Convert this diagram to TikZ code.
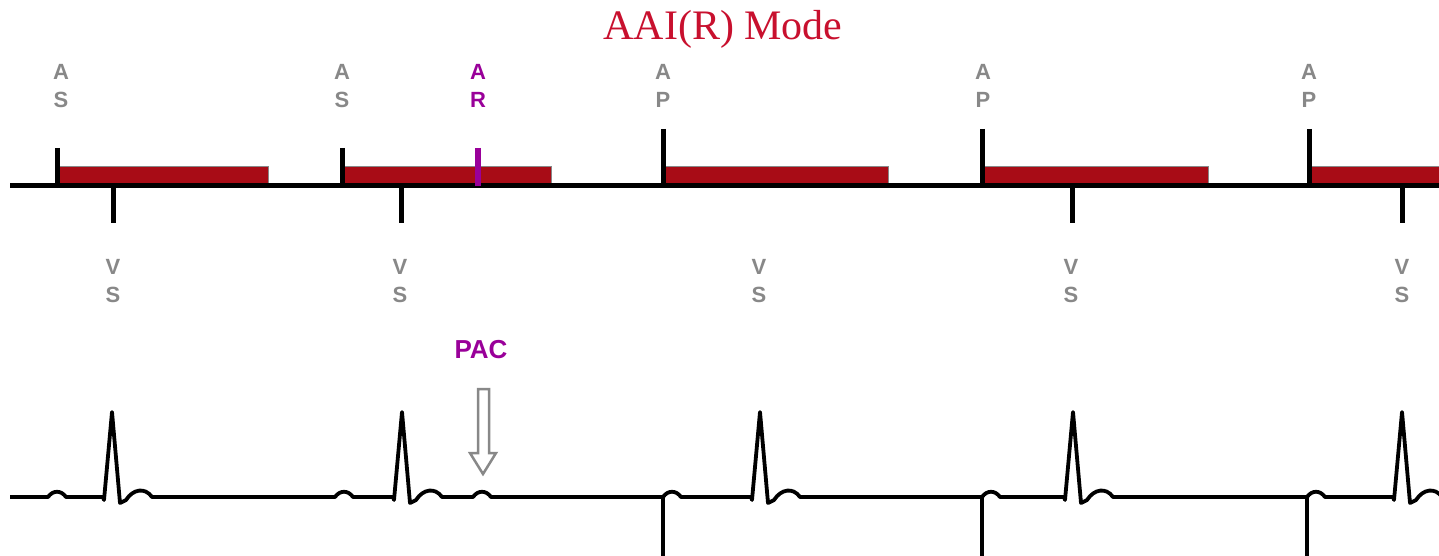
\documentclass[tikz,border=0pt]{standalone}
\usepackage{fontspec}
\setmainfont{Liberation Serif}
\setsansfont{Liberation Sans}
\usetikzlibrary{positioning}
\definecolor{titlered}{RGB}{200,16,46}
\definecolor{refred}{RGB}{168,12,22}
\definecolor{evgray}{RGB}{136,136,136}
\definecolor{pacpurple}{RGB}{153,0,153}

\begin{document}
\begin{tikzpicture}[
    x=1pt, y=-1pt,
    title/.style  ={font=\fontsize{42}{46}\selectfont, text=titlered,
                    anchor=base, inner sep=0pt},
    evlabel/.style={font=\fontsize{22}{28}\selectfont\sffamily\bfseries,
                    text=evgray, align=center, inner sep=0pt},
    arlabel/.style={evlabel, text=pacpurple},
    paclabel/.style={font=\fontsize{26}{30}\selectfont\sffamily\bfseries,
                    text=pacpurple, inner sep=0pt},
    refbar/.style ={fill=refred},
    barrim/.style ={draw=evgray, line width=1.5pt},
    axis/.style   ={line width=5pt},
    evtick/.style ={line width=5pt},
    artick/.style ={line width=5.5pt, draw=pacpurple},
    ecg/.style    ={line width=3.8pt, line join=round},
    spike/.style  ={line width=3.5pt},
    hollow/.style ={draw=evgray, line width=2.5pt, fill=white},
    pwave/.style  ={insert path={.. controls +(5,-7) and +(-5,-7) .. ++(18,0)}},
    qrs/.style    ={insert path={-- ++(1,3) -- ++(8,-88) -- ++(8,91) -- ++(6,-3)
                    .. controls +(7,-11) and +(-7,-10) .. ++(26,-3)}},
]
\useasboundingbox (0,0) rectangle (1439,556);

\node[title] (title) at (723,40) {AAI(R) Mode};

% =========================================================
% Marker channel: refractory bars, sensed / paced events
% =========================================================
\fill[refbar] (60,167) rectangle (269,186);
\fill[refbar] (345,167) rectangle (552,186);
\fill[refbar] (666,167) rectangle (889,186);
\fill[refbar] (985,167) rectangle (1209,186);
\fill[refbar] (1312,167) rectangle (1445,186);
\draw[barrim] (60,166.5) -| (268.5,184);
\draw[barrim] (345,166.5) -| (551.5,184);
\draw[barrim] (666,166.5) -| (888.5,184);
\draw[barrim] (985,166.5) -| (1208.5,184);
\draw[barrim] (1312,166.5) -- (1445,166.5);

\draw[axis] (10,186) -- (1439,186);

% atrial events (up)
\draw[evtick] (57,148)   -- (57,186);
\draw[evtick] (342,148)  -- (342,186);
\draw[evtick] (663,129)  -- (663,186);
\draw[evtick] (982,129)  -- (982,186);
\draw[evtick] (1309,129) -- (1309,186);
\draw[artick] (478,148)  -- (478,186);

% ventricular events (down)
\draw[evtick] (113,186)  -- (113,223);
\draw[evtick] (401,186)  -- (401,223);
\draw[evtick] (1072,186) -- (1072,223);
\draw[evtick] (1402,186) -- (1402,223);

\node[evlabel] (as1) at (61,86)   {A\\S};
\node[evlabel] (as2) at (342,86)  {A\\S};
\node[arlabel] (ar)  at (478,86)  {A\\R};
\node[evlabel] (ap1) at (663,86)  {A\\P};
\node[evlabel] (ap2) at (983,86)  {A\\P};
\node[evlabel] (ap3) at (1309,86) {A\\P};

\node[evlabel] (vs1) at (113,281)  {V\\S};
\node[evlabel] (vs2) at (400,281)  {V\\S};
\node[evlabel] (vs3) at (759,281)  {V\\S};
\node[evlabel] (vs4) at (1071,281) {V\\S};
\node[evlabel] (vs5) at (1402,281) {V\\S};

% =========================================================
% Surface ECG
% =========================================================
\node[paclabel] (pac) at (481,350) {PAC};
\draw[hollow] (478,389) -- (489,389) -- (489,453) -- (496,453)
    -- (483,474) -- (470,453) -- (478,453) -- cycle;

\draw[ecg] (10,497)
    -- (48,497)   [pwave]
    -- (103,497)  [qrs]
    -- (335,497)  [pwave]
    -- (393,497)  [qrs]
    -- (473,497)  [pwave]
    -- (663,497)  [pwave]
    -- (751,497)  [qrs]
    -- (982,497)  [pwave]
    -- (1064,497) [qrs]
    -- (1307,497) [pwave]
    -- (1393,497) [qrs];

% pacing spikes
\draw[spike] (663,497)  -- (663,560);
\draw[spike] (982,497)  -- (982,560);
\draw[spike] (1307,497) -- (1307,560);

\end{tikzpicture}
\end{document}
